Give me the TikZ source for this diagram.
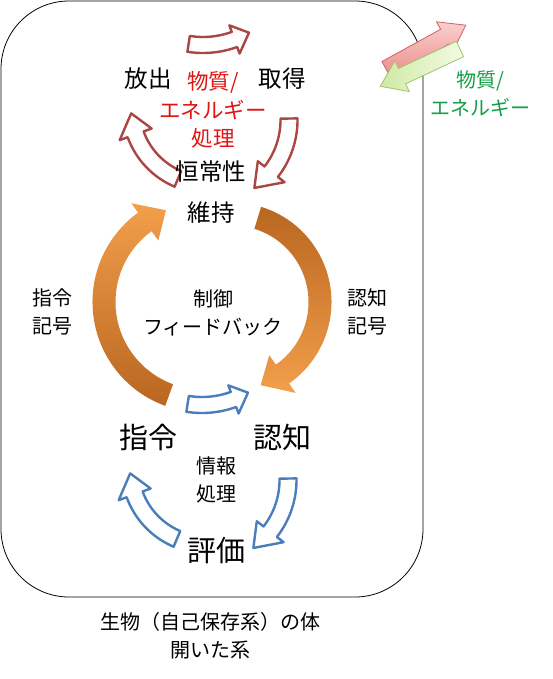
\documentclass[tikz,border=0pt]{standalone}
\usepackage{fontspec}
\setmainfont{Noto Sans CJK JP}
\definecolor{redline}{RGB}{170,70,68}
\definecolor{blueline}{RGB}{74,126,187}
\definecolor{redtxt}{RGB}{225,20,20}
\definecolor{greentxt}{RGB}{20,160,70}
\definecolor{orglight}{RGB}{249,165,80}
\definecolor{orgdark}{RGB}{185,102,32}
\definecolor{pinkline}{RGB}{205,100,98}
\definecolor{pinklight}{RGB}{249,208,207}
\definecolor{pinkdark}{RGB}{236,140,138}
\definecolor{grnline}{RGB}{160,195,110}
\definecolor{grnlight}{RGB}{243,250,228}
\definecolor{grndark}{RGB}{208,234,164}
\tikzset{lbl/.style={inner sep=0pt, align=center},
  txtL/.style={lbl, font=\fontsize{29}{30}\selectfont},
  txtM/.style={lbl, font=\fontsize{23.5}{28}\selectfont},
  txtS/.style={lbl, font=\fontsize{20}{28}\selectfont},
  redloop/.style={draw=redline, line width=2.4pt, fill=white, line join=round},
  blueloop/.style={draw=blueline, line width=2.4pt, fill=white, line join=round}}
% curved block arrow: cx, cy, r, from, to, width, head width, head angle, style
\newcommand{\bendarrow}[9]{%
  \pgfmathsetmacro{\arcB}{#5-sign(#5-#4)*#8}%
  \pgfmathsetmacro{\arcO}{#3+#6/2}%
  \pgfmathsetmacro{\arcI}{#3-#6/2}%
  \pgfmathsetmacro{\arcHo}{#3+#7/2}%
  \pgfmathsetmacro{\arcHi}{#3-#7/2}%
  \draw[#9, shift={(#1,#2)}] (#4:\arcO)
    arc[start angle=#4, end angle=\arcB, radius=\arcO]
    -- (\arcB:\arcHo) -- (#5:#3) -- (\arcB:\arcHi) -- (\arcB:\arcI)
    arc[start angle=\arcB, end angle=#4, radius=\arcI] -- cycle;}
% straight block arrow: x, y, angle, length, width, head width, head length, style
\newcommand{\blockarrow}[8]{%
  \begin{scope}[shift={(#1,#2)}, rotate=#3]
    \draw[#8] (0,-#5/2) -- ({#4-#7},-#5/2) -- ({#4-#7},-#6/2) -- (#4,0)
      -- ({#4-#7},#6/2) -- ({#4-#7},#5/2) -- (0,#5/2) -- cycle;
  \end{scope}}

\begin{document}
\begin{tikzpicture}[x=1pt, y=-1pt]
  \useasboundingbox (0,0) rectangle (552,679);
  \draw[line width=0.8pt, rounded corners=68pt] (1,1) rectangle (423,597);
  % matter / energy loop
  \bendarrow{203}{-47}{92}{99}{60}{16}{30}{10}{redloop}
  \bendarrow{208}{108}{77}{113}{176}{17}{34}{16}{redloop}
  \bendarrow{205}{120}{84}{-1}{54}{17}{34}{16}{redloop}
  % control feedback
  \bendarrow{203}{302}{99}{110}{248}{23}{46}{14}
    {draw=none, top color=orglight!90!orgdark, middle color=orglight, bottom color=orgdark}
  \bendarrow{232}{302}{88}{-73}{71}{23}{46}{16}
    {draw=none, top color=orgdark, middle color=orglight, bottom color=orglight!90!orgdark}
  % information loop
  \begin{scope}[shift={(-1,360)}]
    \bendarrow{203}{-47}{92}{99}{60}{16}{30}{10}{blueloop}
    \bendarrow{208}{108}{77}{113}{176}{17}{34}{16}{blueloop}
    \bendarrow{205}{120}{84}{-1}{54}{17}{34}{16}{blueloop}
  \end{scope}
  % exchange with outside
  \blockarrow{386}{69}{28.8}{91}{17}{34}{24}
    {draw=pinkline, line width=0.8pt, top color=pinklight, bottom color=pinkdark}
  \blockarrow{460}{49}{-154.9}{88}{17}{34}{24}
    {draw=grnline, line width=0.8pt, left color=grndark, right color=grnlight}

  \node[txtM] (emit) at (148,79) {放出};
  \node[txtM] (gain) at (282,79) {取得};
  \node[txtS, font=\fontsize{21.5}{28.5}\selectfont, text=redtxt] (mproc)
    at (213,110) {物質/\\エネルギー\\処理};
  \node[txtM] (homeo) at (211,172) {恒常性};
  \node[txtM] (keep) at (211,213) {維持};
  \node[txtS] (cmdsig) at (52,312) {指令\\記号};
  \node[txtS] (ctrl) at (213,313) {制御\\フィードバック};
  \node[txtS] (cogsig) at (367,312) {認知\\記号};
  \node[txtL] (cmd) at (148,437) {指令};
  \node[txtL] (cog) at (282,437) {認知};
  \node[txtS] (iproc) at (216,480) {情報\\処理};
  \node[txtL] (eval) at (216,551) {評価};
  \node[txtS] (caption) at (210,636) {生物（自己保存系）の体\\開いた系};
  \node[txtS, text=greentxt] (mflow) at (480,94) {物質/\\エネルギー};
\end{tikzpicture}
\end{document}
